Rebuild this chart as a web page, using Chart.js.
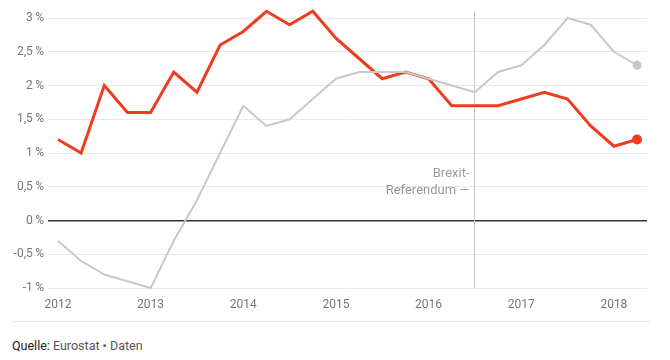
<!DOCTYPE html>
<html>
<head>
<meta charset="utf-8">
<script src="https://cdn.jsdelivr.net/npm/chart.js@4/dist/chart.umd.min.js"></script>
<style>
  body { margin: 0; background: #fff; font-family: Roboto, sans-serif; }
  #wrap { position: absolute; left: 0; top: 0; width: 670px; height: 310px; }
  #sep { position: absolute; left: 12px; top: 321px; width: 638px; height: 0; border-top: 1px solid #e2e2e2; }
  #src { position: absolute; left: 12px; top: 338px; font-size: 12.5px; color: #555; }
  #src b { font-weight: normal; color: #222; }
</style>
</head>
<body>
<div id="wrap"><canvas id="myChart"></canvas></div>
<div id="sep"></div>
<div id="src"><b>Quelle:</b> Eurostat • Daten</div>
<script>
// Quartale 2012 Q1 bis 2018 Q2
const jahre = ['2012', '2013', '2014', '2015', '2016', '2017', '2018'];
const jahrIndex = [0, 4, 8, 12, 16, 20, 24];

// rote Linie
const werteRot = [1.2, 1.0, 2.0, 1.6, 1.6, 2.2, 1.9, 2.6, 2.8, 3.1, 2.9, 3.1, 2.7,
                  2.4, 2.1, 2.2, 2.1, 1.7, 1.7, 1.7, 1.8, 1.9, 1.8, 1.4, 1.1, 1.2];
// graue Linie
const werteGrau = [-0.3, -0.6, -0.8, -0.9, -1.0, -0.3, 0.3, 1.0, 1.7, 1.4, 1.5, 1.8, 2.1,
                   2.2, 2.2, 2.2, 2.1, 2.0, 1.9, 2.2, 2.3, 2.6, 3.0, 2.9, 2.5, 2.3];

// Brexit-Referendum (Quartalsindex 2016 Q3)
const brexitIndex = 18;
const brexitText = ['Brexit-', 'Referendum —'];

const rot = '#f03c1e';
const grau = '#c8c8c8';

function punkte(werte) {
    return werte.map((v, i) => ({ x: i, y: v }));
}

function radius(n) {
    return ctx => ctx.dataIndex === n - 1 ? 3.5 : 0;
}

const brexitPlugin = {
    id: 'brexit',
    beforeDatasetsDraw(chart) {
        const c = chart.ctx;
        const x = Math.round(chart.scales.x.getPixelForValue(brexitIndex)) - 0.5;
        const yUnten = chart.chartArea.bottom;
        c.save();
        c.strokeStyle = '#c8c8c8';
        c.lineWidth = 1;
        c.beginPath();
        c.moveTo(x, 11);
        c.lineTo(x, yUnten);
        c.stroke();
        c.font = '13px Roboto, sans-serif';
        c.fillStyle = '#999';
        c.textAlign = 'right';
        c.textBaseline = 'middle';
        c.fillText(brexitText[0], x - 5, 174);
        c.fillText(brexitText[1], x - 5, 191);
        c.restore();
    }
};

const ctx = document.getElementById('myChart').getContext('2d');
new Chart(ctx, {
    type: 'line',
    data: {
        datasets: [{
            data: punkte(werteGrau),
            borderColor: grau,
            backgroundColor: grau,
            borderWidth: 2,
            pointRadius: radius(werteGrau.length),
            pointHoverRadius: 0,
            tension: 0,
            clip: false
        }, {
            data: punkte(werteRot),
            borderColor: rot,
            backgroundColor: rot,
            borderWidth: 3,
            pointRadius: radius(werteRot.length),
            pointHoverRadius: 0,
            tension: 0,
            clip: false
        }]
    },
    options: {
        responsive: true,
        maintainAspectRatio: false,
        animation: false,
        layout: { padding: { top: 18, right: 23, left: 0, bottom: 0 } },
        plugins: { legend: { display: false }, tooltip: { enabled: false } },
        scales: {
            x: {
                type: 'linear',
                min: -0.43,
                max: 25.43,
                afterBuildTicks: s => { s.ticks = jahrIndex.map(v => ({ value: v })); },
                afterFit: s => { s.height = 22; },
                grid: { display: false },
                border: { display: false },
                ticks: {
                    autoSkip: false,
                    maxRotation: 0,
                    padding: 2,
                    color: '#777',
                    font: { family: 'Roboto', size: 12 },
                    callback: v => jahre[jahrIndex.indexOf(v)]
                }
            },
            y: {
                min: -1,
                max: 3,
                afterFit: s => { s.width = 48; },
                border: { display: false },
                grid: {
                    drawTicks: false,
                    color: c => c.tick.value === 0 ? '#333' : '#e8e8e8',
                    lineWidth: c => c.tick.value === 0 ? 1.5 : 1
                },
                ticks: {
                    stepSize: 0.5,
                    padding: 4,
                    color: '#777',
                    font: { family: 'Roboto', size: 12 },
                    callback: v => String(v).replace('.', ',') + '\u2009%'
                }
            }
        }
    },
    plugins: [brexitPlugin]
});
</script>
</body>
</html>
